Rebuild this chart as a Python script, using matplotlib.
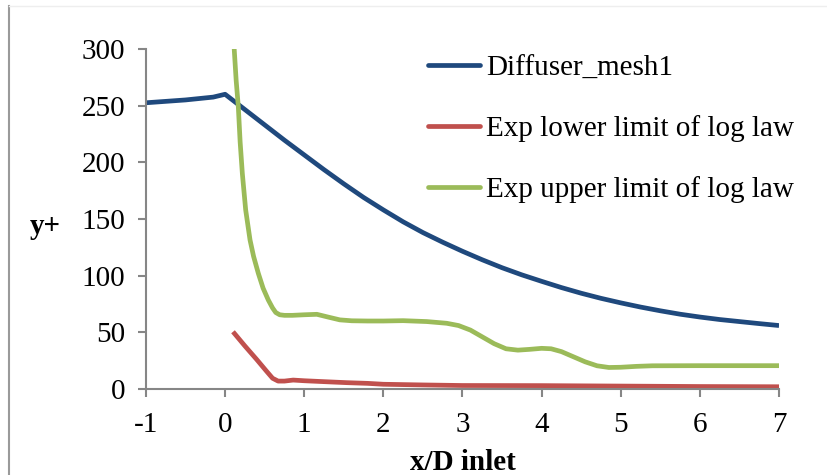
import matplotlib
matplotlib.use("Agg")
import matplotlib.pyplot as plt
from matplotlib.lines import Line2D

plt.rcParams['font.family'] = ['Liberation Serif', 'DejaVu Serif']

# y+ along the diffuser (x/D inlet)
mesh_x = [-1.0, -0.5, -0.15, 0.0, 0.25, 0.5, 0.75, 1.0, 1.25, 1.5, 1.75, 2.0, 2.25, 2.5,
          2.75, 3.0, 3.25, 3.5, 3.75, 4.0, 4.25, 4.5, 4.75, 5.0, 5.25, 5.5, 5.75, 6.0,
          6.25, 6.5, 6.75, 7.0]
mesh_y = [252.5, 255.0, 257.5, 260.0, 246.5, 233.0, 219.5, 206.5, 193.5, 181.0, 169.0, 158.0,
          147.5, 138.0, 129.5, 121.5, 114.0, 107.0, 100.7, 95.0, 89.5, 84.5, 80.0, 76.0,
          72.3, 69.0, 66.0, 63.5, 61.3, 59.5, 57.7, 56.0]

lower_x = [0.10, 0.25, 0.40, 0.52, 0.60, 0.67, 0.75, 0.86, 1.0, 1.25, 1.54, 1.8, 2.0, 2.5,
           3.0, 4.0, 5.0, 6.0, 7.0]
lower_y = [50.5, 38.0, 26.0, 16.0, 9.5, 7.0, 7.0, 7.9, 7.3, 6.5, 5.6, 5.0, 4.2, 3.6,
           3.1, 3.0, 2.6, 2.2, 2.0]

upper_x = [0.115, 0.14, 0.167, 0.19, 0.218, 0.26, 0.315, 0.36, 0.42, 0.48, 0.546, 0.60, 0.64,
           0.69, 0.75, 0.85, 1.0, 1.16, 1.3, 1.45, 1.6, 1.8, 2.0, 2.25, 2.55, 2.8, 2.95,
           3.1, 3.25, 3.4, 3.55, 3.7, 3.85, 4.0, 4.12, 4.25, 4.4, 4.55, 4.7, 4.85, 5.0,
           5.2, 5.4, 6.0, 7.0]
upper_y = [300.0, 272.0, 249.0, 218.0, 190.0, 158.0, 131.5, 117.0, 102.0, 89.0, 78.5, 71.5,
           67.5, 65.5, 65.0, 65.0, 65.5, 65.9, 63.5, 61.0, 60.2, 60.0, 60.0, 60.3, 59.5,
           58.0, 56.0, 52.0, 46.0, 40.0, 35.5, 34.3, 35.0, 35.9, 35.5, 33.0, 28.5, 24.0,
           20.5, 19.0, 19.2, 20.0, 20.5, 20.6, 20.6]

series_names = ["Diffuser_mesh1", "Exp lower limit of log law", "Exp upper limit of log law"]
series_colors = ["#1F497D", "#C0504D", "#9BBB59"]

x_ticks = [-1, 0, 1, 2, 3, 4, 5, 6, 7]
y_ticks = [0, 50, 100, 150, 200, 250, 300]

FS = 21

fig = plt.figure(figsize=(8.27, 4.75), dpi=100)
ax = fig.add_axes([0.1765, 0.181, 0.9420 - 0.1765, 0.897 - 0.181])

lw = 3.4
for xs, ys, c, name in zip([mesh_x, lower_x, upper_x], [mesh_y, lower_y, upper_y],
                           series_colors, series_names):
    ax.plot(xs, ys, color=c, lw=lw, solid_capstyle='butt', solid_joinstyle='round',
            label=name, clip_on=True)

ax.set_xlim(-1, 7)
ax.set_ylim(0, 300)
ax.set_xticks(x_ticks)
ax.set_yticks(y_ticks)
ax.set_xticklabels([str(v) for v in x_ticks])
ax.set_yticklabels([str(v) for v in y_ticks])

for side in ("top", "right"):
    ax.spines[side].set_visible(False)
for side in ("left", "bottom"):
    ax.spines[side].set_color("#868686")
    ax.spines[side].set_linewidth(1.5)
ax.tick_params(axis='both', direction='out', length=5.8, width=1.5, color="#868686",
               labelsize=FS, labelcolor="black")
ax.tick_params(axis='y', pad=9)
ax.tick_params(axis='x', pad=10.5)

ax.set_xlabel("x/D inlet", fontsize=FS, fontweight='bold', labelpad=8)
fig.text(45 / 827, 1 - 227 / 475, "y+", fontsize=FS, fontweight='bold',
         ha='center', va='center')

handles = [Line2D([], [], color=c, lw=lw, solid_capstyle='round') for c in series_colors]
leg = ax.legend(handles, series_names, loc='upper left',
                bbox_to_anchor=(428 / 827, 1 - 55 / 475), bbox_transform=fig.transFigure,
                frameon=False, fontsize=FS, handlelength=1.78, handletextpad=0.22,
                labelspacing=1.16, borderpad=0, borderaxespad=0)

# chart border remnants
fig.add_artist(Line2D([8.5 / 827, 8.5 / 827], [0, 1 - 6 / 475], transform=fig.transFigure,
                      color="#9a9a9a", lw=1.5))
fig.add_artist(Line2D([8.5 / 827, 1], [1 - 6 / 475, 1 - 6 / 475], transform=fig.transFigure,
                      color="#eeeeee", lw=1.0))

fig.savefig("out.png", dpi=100)
